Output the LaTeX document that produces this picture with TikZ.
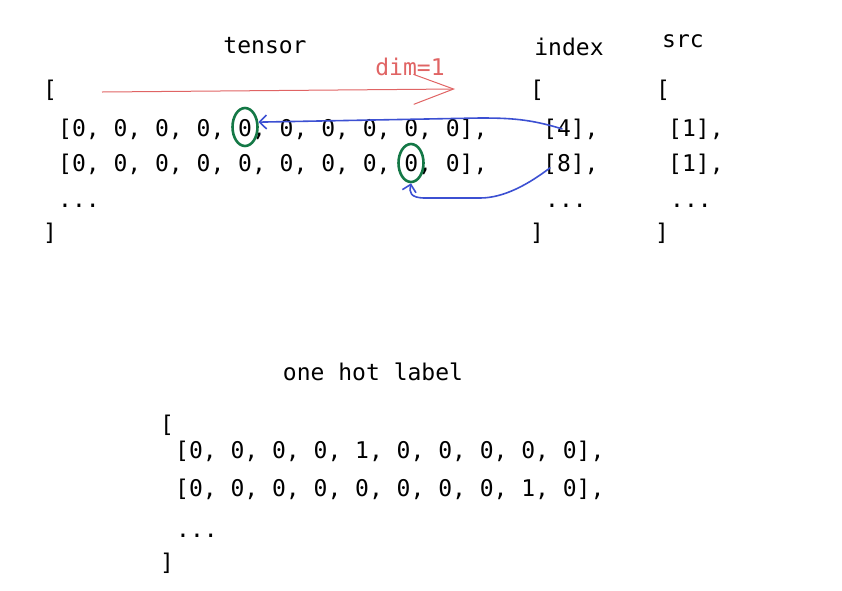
\documentclass[tikz,border=0pt]{standalone}
\usepackage{fontspec}
\setmonofont{DejaVu Sans Mono}
\usetikzlibrary{arrows.meta,shapes.geometric}
\definecolor{penred}{RGB}{224,100,100}
\definecolor{penblue}{RGB}{60,80,210}
\definecolor{pengreen}{RGB}{20,120,70}
\tikzset{
  txt/.style={font=\ttfamily\fontsize{23}{23}\selectfont, inner sep=0pt, anchor=base west},
  ttl/.style={font=\ttfamily\fontsize{23}{23}\selectfont, inner sep=0pt, anchor=base},
  ring/.style={draw=pengreen, line width=2.6pt, ellipse, inner sep=0pt, minimum width=25pt, minimum height=38pt},
  hint/.style={penblue, line width=1.6pt, line cap=round, -{Straight Barb[length=7pt,width=14pt]}},
}
\begin{document}
\begin{tikzpicture}[x=1pt, y=-1pt]
	\useasboundingbox (0,0) rectangle (842,590);
	% titles
	\node[ttl] (tensor) at (265,53) {tensor};
	\node[ttl] (index) at (569,55) {index};
	\node[ttl] (src) at (683,47) {src};
	\node[ttl, penred] (dim) at (410,75) {dim=1};
	% tensor
	\node[txt] (tl) at (43,97) {[};
	\node[txt] (t1) at (58,136) {[0, 0, 0, 0, 0, 0, 0, 0, 0, 0],};
	\node[txt] (t2) at (58,171) {[0, 0, 0, 0, 0, 0, 0, 0, 0, 0],};
	\node[txt] (tdots) at (58,207) {...};
	\node[txt] (tr) at (43,240) {]};
	% index
	\node[txt] (il) at (530,97) {[};
	\node[txt] (i1) at (543,136) {[4],};
	\node[txt] (i2) at (543,171) {[8],};
	\node[txt] (idots) at (545,207) {...};
	\node[txt] (ir) at (530,240) {]};
	% src
	\node[txt] (sl) at (656,97) {[};
	\node[txt] (s1) at (668,136) {[1],};
	\node[txt] (s2) at (668,171) {[1],};
	\node[txt] (sdots) at (670,207) {...};
	\node[txt] (sr) at (655,240) {]};
	% dim arrow
	\path (102,92) coordinate (d0) (455,89) coordinate (d1);
	\draw[penred, line width=1pt, -{Straight Barb[length=40pt,width=30pt]}] (d0) -- (d1);
	% picked cells
	\node[ring] (c1) at (245,127) {};
	\node[ring] (c2) at (411,163) {};
	\draw[hint] ([xshift=19pt]i1.west) .. controls (530,119) and (510,118) .. (480,118) -- (c1.20);
	\draw[hint] ([xshift=7pt,yshift=-4pt]i2.west) .. controls (530,183) and (505,198) .. (480,198) -- (425,198) .. controls (410,198) and (409,192) .. (c2.south);
	% one hot label
	\node[ttl] (oh) at (373,380) {one hot label};
	\node[txt] (ol) at (160,432) {[};
	\node[txt] (o1) at (175,458) {[0, 0, 0, 0, 1, 0, 0, 0, 0, 0],};
	\node[txt] (o2) at (175,496) {[0, 0, 0, 0, 0, 0, 0, 0, 1, 0],};
	\node[txt] (odots) at (176,537) {...};
	\node[txt] (or) at (160,570) {]};
\end{tikzpicture}
\end{document}
